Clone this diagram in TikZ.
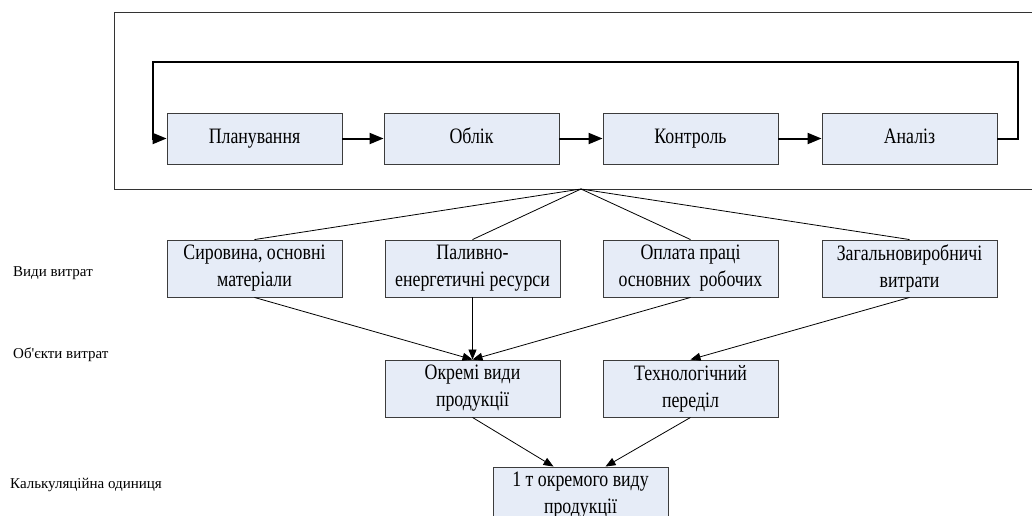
\documentclass[tikz,border=0pt]{standalone}
\usepackage{fontspec}
\setmainfont{Liberation Serif}[Ligatures=TeXOff]
\newfontfamily\boxfont{Liberation Serif}[FakeStretch=0.81]
\usetikzlibrary{arrows.meta,calc}
\definecolor{boxfill}{RGB}{230,236,247}
\definecolor{boxline}{RGB}{60,60,60}
\begin{document}
\begin{tikzpicture}[x=1pt,y=-1pt,
  box/.style={draw=boxline,line width=0.9pt,fill=boxfill,minimum width=175pt,align=center,inner sep=0pt,
    font=\boxfont\fontsize{22}{27}\selectfont},
  topbox/.style={box,minimum height=51pt},
  midbox/.style={box,minimum height=57pt},
  lbl/.style={anchor=west,inner sep=0pt,font=\fontsize{15}{17}\selectfont},
  thin/.style={line width=0.8pt},
  thinarrow/.style={thin,-{Triangle[length=10pt,width=8pt]}},
  thick/.style={line width=2pt,-{Triangle[length=14pt,width=11pt]}}]
\clip (0,0) rectangle (1032,515);
\useasboundingbox (0,0) rectangle (1032,515);
% frame
\draw[line width=0.9pt,black!80] (1032,12) -- (114,12) -- (114,189) -- (1032,189);
\coordinate (fan) at (581,189);
% top row
\node[topbox] (plan) at (254.5,138.5) {\strut Планування};
\node[topbox] (oblik) at (471.5,138.5) {\strut Облік};
\node[topbox] (kontr) at (690.5,138.5) {\strut Контроль};
\node[topbox] (anal) at (909.5,138.5) {\strut Аналіз};
\draw[thick] (plan) -- (oblik);
\draw[thick] (oblik) -- (kontr);
\draw[thick] (kontr) -- (anal);
\coordinate (rr) at (1018,62);
\coordinate (ll) at (153,62);
\draw[thick] (anal.east) -- (anal.east -| rr) -- (rr) -- (ll) -- (ll |- plan.west) -- (plan.west);
% cost types
\node[midbox] (syr) at (254.5,268.5) {Сировина, основні\\матеріали};
\node[midbox] (pal) at (472.5,268.5) {Паливно-\\енергетичні ресурси};
\node[midbox] (opl) at (690.5,268.5) {Оплата праці\\основних\ \ робочих};
\node[midbox] (zag) at (909.5,268.5) {Загальновиробничі\\витрати};
\foreach \n in {syr,pal,opl,zag} \draw[thin] (fan) -- (\n.north);
% objects
\node[midbox] (okr) at (472.5,388.5) {Окремі види\\продукції};
\node[midbox] (tech) at (690.5,388.5) {Технологічний\\переділ};
\draw[thinarrow] (syr.south) -- (okr.north);
\draw[thinarrow] (pal.south) -- (okr.north);
\draw[thinarrow] (opl.south) -- (okr.north);
\draw[thinarrow] (zag.south) -- (tech.north);
% unit
\node[midbox] (unit) at (580.5,495.5) {1 т окремого виду\\продукції};
\draw[thinarrow] (okr.south) -- ($(unit.north)+(-27,0)$);
\draw[thinarrow] (tech.south) -- ($(unit.north)+(25,0)$);
% left labels
\node[lbl] (l1) at (13,273) {Види витрат};
\node[lbl] (l2) at (13,355) {Об'єкти витрат};
\node[lbl] (l3) at (10,485) {Калькуляційна одиниця};
\end{tikzpicture}
\end{document}
